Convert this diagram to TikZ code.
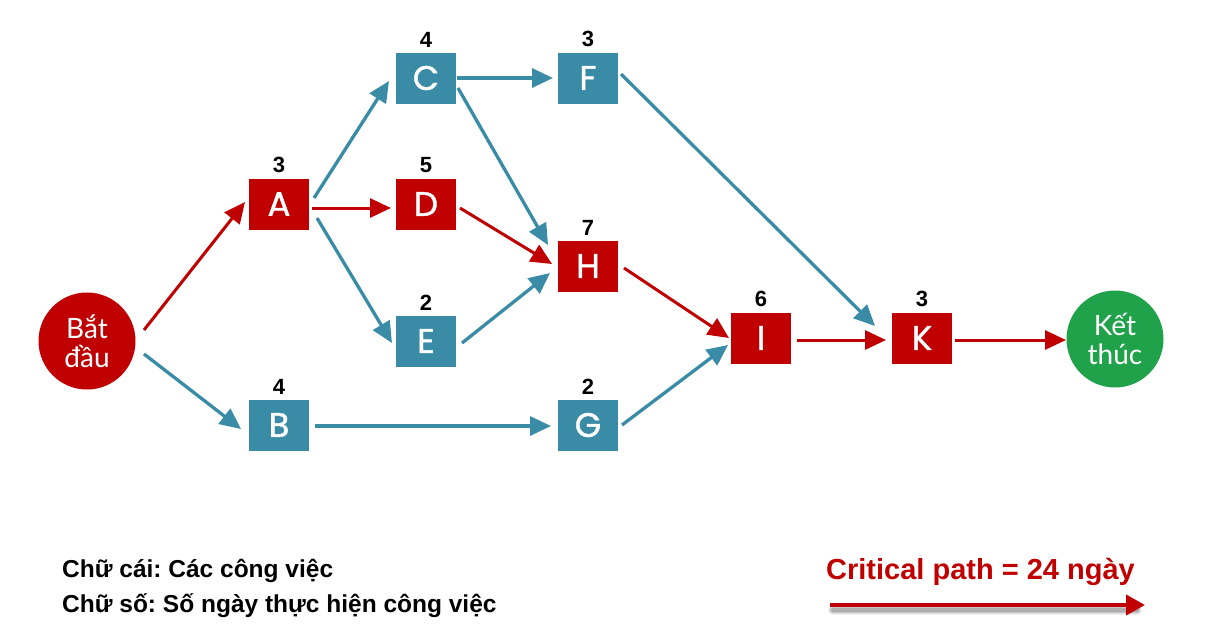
\documentclass[tikz,border=0pt]{standalone}
\usepackage{fontspec}
\setmainfont{Liberation Sans}
\newfontfamily\popfont[FakeBold=1.2]{Poppins}
\newfontfamily\circfont{Lato}
\usetikzlibrary{arrows.meta}
\definecolor{cpred}{HTML}{C00000}
\definecolor{cpteal}{HTML}{3A8CA6}
\definecolor{cpgreen}{HTML}{1FA24A}
\frenchspacing
\begin{document}
\begin{tikzpicture}[x=1pt,y=-1pt,
  box/.style={rectangle, minimum width=60pt, minimum height=51pt, inner sep=0pt,
    text=white, font=\popfont\fontsize{34}{34}\selectfont},
  redbox/.style={box, fill=cpred},
  tealbox/.style={box, fill=cpteal},
  circ/.style={circle, minimum size=97pt, inner sep=0pt, text=white, align=center,
    font=\circfont\fontsize{28}{29}\selectfont},
  num/.style={font=\bfseries\fontsize{22}{22}\selectfont, inner sep=0pt, text=black},
  every label/.style={num},
  label distance=5pt,
  tl/.style={draw=cpteal, line width=3.3pt, -{Triangle[length=21pt,width=19pt]}},
  rl/.style={draw=cpred, line width=3pt, -{Triangle[length=21pt,width=19pt]}},
  legend/.style={font=\bfseries\fontsize{24.5}{24.5}\selectfont, inner sep=0pt, anchor=base west},
]
\useasboundingbox (0,0) rectangle (1206,638);

% nodes
\node[circ, fill=cpred] (S) at (87,341) {Bắt\\đầu};
\node[redbox, label=above:3] (A) at (279,204) {A};
\node[tealbox, label=above:4] (B) at (279,425) {B};
\node[tealbox, label=above:4] (C) at (426,78) {C};
\node[redbox, label=above:5] (D) at (426,204) {D};
\node[tealbox, label=above:2] (E) at (426,341) {E};
\node[tealbox, label=above:3] (F) at (588,78) {F};
\node[tealbox, label=above:2] (G) at (588,425) {G};
\node[redbox, label=above:7] (H) at (588,266) {H};
\node[redbox, label=above:6] (I) at (761,338) {I};
\node[redbox, label=above:3] (K) at (922,338) {K};
\node[circ, fill=cpgreen] (T) at (1115,339) {Kết\\thúc};

% connectors
\draw[rl] ([shift={(57,-11)}]S.center) -- ([shift={(-34,-2)}]A.center);
\draw[tl] ([shift={(57,13)}]S.center) -- ([shift={(-38,4)}]B.center);
\draw[tl] ([shift={(35,-6)}]A.center) -- ([shift={(-37,3)}]C.center);
\draw[rl] ([shift={(33,4)}]A.center) -- ([shift={(-35,4)}]D.center);
\draw[tl] ([shift={(38,14)}]A.center) -- ([shift={(-34,2)}]E.center);
\draw[tl] ([shift={(31,0)}]C.center) -- ([shift={(-35,0)}]F.center);
\draw[tl] ([shift={(32,10)}]C.center) -- ([shift={(-40,-21)}]H.center);
\draw[rl] ([shift={(34,4)}]D.center) -- ([shift={(-36,-2)}]H.center);
\draw[tl] ([shift={(36,2)}]E.center) -- ([shift={(-38,7)}]H.center);
\draw[tl] ([shift={(36,1)}]B.center) -- ([shift={(-37,1)}]G.center);
\draw[rl] ([shift={(36,2)}]H.center) -- ([shift={(-32,0)}]I.center);
\draw[tl] ([shift={(34,0)}]G.center) -- ([shift={(-33,7)}]I.center);
\draw[tl] ([shift={(33,-4)}]F.center) -- ([shift={(-47,-12)}]K.center);
\draw[rl] ([shift={(36,2)}]I.center) -- ([shift={(-36,2)}]K.center);
\draw[rl] ([shift={(33,2)}]K.center) -- ([shift={(-49,1)}]T.center);

% legend
\node[legend] (L1) at (62,577) {Chữ cái: Các công việc};
\node[legend] (L2) at (62,612) {Chữ số: Số ngày thực hiện công việc};
\node[legend, text=cpred, font=\bfseries\fontsize{29}{29}\selectfont] (CP) at (826,579) {Critical path = 24 ngày};
\coordinate (cpS) at (830,605);
\coordinate (cpE) at (1145,605);
\foreach \w/\o in {10/0.06, 8/0.08, 6/0.1, 4/0.12}{
  \draw[line width=\w pt, black, opacity=\o, line cap=round] ([shift={(3,5)}]cpS) -- ([shift={(-8,5)}]cpE);
}
\draw[draw=cpred, line width=4pt, -{Triangle[length=19pt,width=20pt]}] (cpS) -- (cpE);
\end{tikzpicture}
\end{document}
